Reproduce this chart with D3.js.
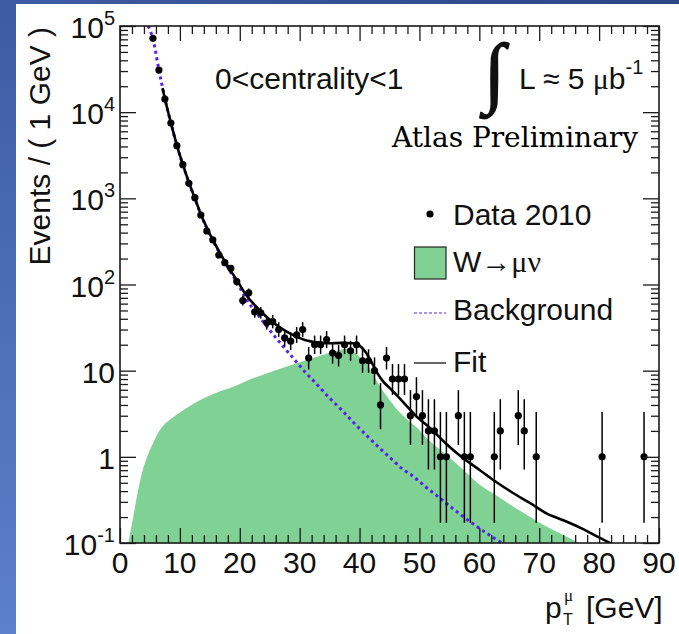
<!DOCTYPE html>
<html>
<head>
<meta charset="utf-8">
<script src="https://cdn.jsdelivr.net/npm/d3@7"></script>
<style>
  html, body { margin: 0; padding: 0; background: #fff; }
  svg { display: block; }
</style>
</head>
<body>
<svg id="chart" width="679" height="634"></svg>
<script>
// Muon pT spectrum in Pb+Pb, 0<centrality<1, with W->mu nu signal and background fit

// Data 2010: bin centres (GeV) and event counts per 1 GeV
const binCenters = [5.5, 6.5, 7.5, 8.5, 9.5, 10.5, 11.5, 12.5, 13.5, 14.5,
  15.5, 16.5, 17.5, 18.5, 19.5, 20.5, 21.5, 22.5, 23.5, 24.5,
  25.5, 26.5, 27.5, 28.5, 29.5, 30.5, 31.5, 32.5, 33.5, 34.5,
  35.5, 36.5, 37.5, 38.5, 39.5, 40.5, 41.5, 42.5, 43.5, 44.5,
  45.5, 46.5, 47.5, 48.5, 49.5, 50.5, 51.5, 52.5, 53.5, 54.5,
  56.5, 57.5, 58.5, 62.5, 63.5, 66.5, 67.5, 69.5, 80.5, 87.5];
const counts = [72000, 30800, 14200, 7480, 4080, 2460, 1494, 1018, 641, 418,
  329, 220, 179, 154, 108, 65, 80, 48, 47, 36,
  37, 30, 24, 22, 26, 30, 14, 20, 20, 23,
  16, 15, 20, 17, 20, 13, 13, 10, 4, 14,
  8, 8, 8, 3, 5, 3, 2, 2, 1, 1,
  3, 1, 1, 1, 2, 3, 2, 1, 1, 1];

// Background component (GeV, events)
const bgPt = [4.7, 5.5, 6.5, 7.5, 8.5, 9.5, 10.5, 11.5, 12.5, 13.5, 14.5, 15.5,
  16.5, 17.5, 18.5, 19.5, 21, 23, 25, 27, 29, 31, 33, 35, 37, 39, 41, 43, 45,
  47, 49, 51, 53, 55, 57, 59, 61, 63, 65];
const bgVal = [100000, 70800, 30900, 14300, 7500, 4120, 2450, 1530, 1000, 650, 450, 325,
  240, 180, 138, 106, 69, 44.7, 29.5, 20, 13.8, 9.5, 6.8, 4.8, 3.5, 2.5, 1.82, 1.33, 0.99,
  0.74, 0.59, 0.45, 0.35, 0.27, 0.21, 0.166, 0.133, 0.108, 0.088];

// W -> mu nu component (GeV, events)
const sigPt = [1.4, 2.2, 3.0, 3.9, 4.7, 5.6, 6.3, 6.9, 7.6, 8.5, 9.5, 11, 13.4, 16, 18.9, 21.5,
  24.5, 27, 29.5, 32, 35.1, 36.7, 37.8, 39, 40, 41.2, 42.3, 43.4, 44.8, 46.2, 48,
  49.5, 51.5, 54.5, 57.5, 60.1, 63, 65.7, 68.5, 71.2, 73.5, 75.7, 78.5];
const sigVal = [0.1, 0.2, 0.4, 0.74, 1.07, 1.48, 1.86, 2.16, 2.45, 2.75, 3.09, 3.63, 4.57, 5.5, 6.5, 7.8,
  9.3, 10.7, 12.2, 13.8, 16.2, 17.4, 17.8, 16.6, 14.5, 12.0, 8.9, 6.6, 4.8, 3.6, 2.7,
  2.2, 1.58, 1.05, 0.69, 0.47, 0.35, 0.264, 0.2, 0.155, 0.129, 0.108, 0.087];

// Total fit (GeV, events)
const fitPt = [7.1, 7.5, 8.5, 9.5, 10.5, 11.5, 12.5, 13.5, 14.5, 15.5, 16.5, 17.5, 18.5,
  19.5, 21, 23, 25, 27, 29, 31, 33, 35, 37, 39, 40, 41, 42, 43, 44, 45, 46.2, 48,
  49.5, 52, 54.5, 57, 60.1, 63, 65.7, 68.5, 71.2, 74, 76.8, 79, 81.8, 83];
const fitVal = [19000, 14300, 7500, 4120, 2455, 1534, 1004, 655, 455, 330, 246, 186, 144,
  113, 76.5, 53, 39, 30.7, 25.7, 22.6, 21.3, 20.8, 21, 20.8, 19.5, 16.5, 12.6, 9.3, 7.4, 6.3, 5.2, 3.8,
  2.95, 2.09, 1.41, 1.0, 0.70, 0.50, 0.378, 0.29, 0.221, 0.184, 0.151, 0.126, 0.1, 0.09];

// Axis tick labels
const xTickLabels = ["0", "10", "20", "30", "40", "50", "60", "70", "80", "90"];
const yTickLabels = [["10", "-1"], ["1", ""], ["10", ""], ["10", "2"], ["10", "3"], ["10", "4"], ["10", "5"]];

const plot = { left: 120, right: 659, top: 26, bottom: 543 };
const x = d3.scaleLinear().domain([0, 90]).range([plot.left, plot.right]);
const y = d3.scaleLog().domain([0.1, 1e5]).range([plot.bottom, plot.top]);

const svg = d3.select("#chart");
const defs = svg.append("defs");

// slide backdrop
const gL = defs.append("linearGradient").attr("id", "gradLeft")
  .attr("x1", 0).attr("y1", 0).attr("x2", 0).attr("y2", 1);
gL.append("stop").attr("offset", 0).attr("stop-color", "#3d5ba3");
gL.append("stop").attr("offset", 1).attr("stop-color", "#5d80cc");
const gT = defs.append("linearGradient").attr("id", "gradTop")
  .attr("x1", 0).attr("y1", 0).attr("x2", 1).attr("y2", 0);
gT.append("stop").attr("offset", 0).attr("stop-color", "#3e5ca4");
gT.append("stop").attr("offset", 1).attr("stop-color", "#2b4686");

svg.append("rect").attr("width", 679).attr("height", 634).attr("fill", "#fff");
svg.append("rect").attr("x", 0).attr("y", 0).attr("width", 679).attr("height", 4).attr("fill", "url(#gradTop)");
svg.append("rect").attr("x", 0).attr("y", 0).attr("width", 16).attr("height", 634).attr("fill", "url(#gradLeft)");

defs.append("clipPath").attr("id", "plotClip").append("rect")
  .attr("x", plot.left).attr("y", plot.top)
  .attr("width", plot.right - plot.left).attr("height", plot.bottom - plot.top);

const gPlot = svg.append("g").attr("clip-path", "url(#plotClip)");

// W signal, filled
const sigData = sigPt.map((p, i) => [p, sigVal[i]]);
gPlot.append("path")
  .datum(sigData)
  .attr("fill", "#80d294")
  .attr("d", d3.area().x(d => x(d[0])).y0(plot.bottom).y1(d => y(d[1])).curve(d3.curveMonotoneX));

// axes: inward ticks on all four sides
const xMajor = d3.range(0, 91, 10);
const xMinor = d3.range(0, 91, 2).filter(v => v % 10 !== 0);
const yMajor = [0.1, 1, 10, 100, 1e3, 1e4, 1e5];
const yMinor = [];
for (let e = -1; e <= 4; e++) for (let k = 2; k <= 9; k++) yMinor.push(k * Math.pow(10, e));

function axisGroup(axis, tx, ty) {
  const g = svg.append("g").attr("transform", `translate(${tx},${ty})`).call(axis);
  g.select(".domain").remove();
  g.selectAll("line").attr("stroke", "#1a1a1a").attr("stroke-width", 1.3);
  g.selectAll("text").remove();
  return g;
}
axisGroup(d3.axisBottom(x).tickValues(xMajor).tickSize(-15).tickSizeOuter(0), 0, plot.bottom);
axisGroup(d3.axisBottom(x).tickValues(xMinor).tickSize(-8).tickSizeOuter(0), 0, plot.bottom);
axisGroup(d3.axisTop(x).tickValues(xMajor).tickSize(-15).tickSizeOuter(0), 0, plot.top);
axisGroup(d3.axisTop(x).tickValues(xMinor).tickSize(-8).tickSizeOuter(0), 0, plot.top);
axisGroup(d3.axisLeft(y).tickValues(yMajor).tickSize(-16).tickSizeOuter(0), plot.left, 0);
axisGroup(d3.axisLeft(y).tickValues(yMinor).tickSize(-8).tickSizeOuter(0), plot.left, 0);
axisGroup(d3.axisRight(y).tickValues(yMajor).tickSize(-16).tickSizeOuter(0), plot.right, 0);
axisGroup(d3.axisRight(y).tickValues(yMinor).tickSize(-8).tickSizeOuter(0), plot.right, 0);

svg.append("rect")
  .attr("x", plot.left).attr("y", plot.top)
  .attr("width", plot.right - plot.left).attr("height", plot.bottom - plot.top)
  .attr("fill", "none").attr("stroke", "#1a1a1a").attr("stroke-width", 1.6);

// background component, dotted
const bgData = bgPt.map((p, i) => [p, bgVal[i]]);
gPlot.append("path")
  .datum(bgData)
  .attr("fill", "none")
  .attr("stroke", "#5522ee")
  .attr("stroke-width", 3)
  .attr("stroke-dasharray", "3,3.5")
  .attr("d", d3.line().x(d => x(d[0])).y(d => y(d[1])).curve(d3.curveMonotoneX));

// total fit
const fitData = fitPt.map((p, i) => [p, fitVal[i]]);
gPlot.append("path")
  .datum(fitData)
  .attr("fill", "none")
  .attr("stroke", "#000")
  .attr("stroke-width", 2.6)
  .attr("d", d3.line().x(d => x(d[0])).y(d => y(d[1])).curve(d3.curveMonotoneX));

// data with Poisson (Gehrels) error bars and bin-width horizontal bars
const poissonLow = n => n * Math.pow(1 - 1 / (9 * n) - 1 / (3 * Math.sqrt(n)), 3);
const poissonHigh = n => n + Math.sqrt(n + 0.75) + 1;
const pts = binCenters.map((p, i) => ({ p, n: counts[i] }));
const gData = gPlot.append("g");
gData.selectAll("line.ev").data(pts).join("line")
  .attr("class", "ev")
  .attr("x1", d => x(d.p)).attr("x2", d => x(d.p))
  .attr("y1", d => y(poissonLow(d.n))).attr("y2", d => y(poissonHigh(d.n)))
  .attr("stroke", "#000").attr("stroke-width", 1.5);
gData.selectAll("line.eh").data(pts).join("line")
  .attr("class", "eh")
  .attr("x1", d => x(d.p - 0.5)).attr("x2", d => x(d.p + 0.5))
  .attr("y1", d => y(d.n)).attr("y2", d => y(d.n))
  .attr("stroke", "#000").attr("stroke-width", 1.5);
gData.selectAll("circle").data(pts).join("circle")
  .attr("cx", d => x(d.p)).attr("cy", d => y(d.n)).attr("r", 3.6).attr("fill", "#000");

// tick labels
const sans = "'Liberation Sans', Arial, Helvetica, sans-serif";
const serif = "'Liberation Serif', 'Times New Roman', serif";

svg.append("g").selectAll("text").data(xMajor).join("text")
  .attr("x", d => x(d)).attr("y", plot.bottom + 30)
  .attr("text-anchor", "middle")
  .attr("font-family", sans).attr("font-size", 30).attr("fill", "#111")
  .text((d, i) => xTickLabels[i]);

const yLab = svg.append("g").selectAll("text").data(yMajor).join("text")
  .attr("x", 115).attr("y", d => y(d) + 12)
  .attr("text-anchor", "end")
  .attr("font-family", sans).attr("font-size", 30).attr("fill", "#111");
yLab.each(function (d, i) {
  const t = d3.select(this);
  const [base, sup] = yTickLabels[i];
  t.append("tspan").text(base);
  if (sup) t.append("tspan").attr("font-size", 20).attr("dy", -13).text(sup);
});

// axis titles
svg.append("text")
  .attr("transform", "translate(50,27) rotate(-90)")
  .attr("text-anchor", "end")
  .attr("font-family", sans).attr("font-size", 30).attr("fill", "#111")
  .text("Events / ( 1 GeV )");

svg.append("text").attr("x", 545).attr("y", 618)
  .attr("font-family", sans).attr("font-size", 30).attr("fill", "#111").text("p");
svg.append("text").attr("x", 564).attr("y", 601)
  .attr("font-family", serif).attr("font-size", 17).attr("fill", "#111").text("μ");
svg.append("text").attr("x", 563).attr("y", 625)
  .attr("font-family", sans).attr("font-size", 16).attr("fill", "#111").text("T");
svg.append("text").attr("x", 586).attr("y", 618)
  .attr("font-family", sans).attr("font-size", 30).attr("fill", "#111").text("[GeV]");

// annotations
svg.append("text").attr("x", 215).attr("y", 89)
  .attr("font-family", sans).attr("font-size", 30).attr("fill", "#111")
  .text("0<centrality<1");

svg.append("text").attr("x", 484).attr("y", 98)
  .attr("font-family", serif).attr("font-size", 78).attr("fill", "#111")
  .attr("stroke", "#111").attr("stroke-width", 1.3).text("∫");
const lum = svg.append("text").attr("x", 519).attr("y", 89)
  .attr("font-family", sans).attr("font-size", 30).attr("fill", "#111");
lum.append("tspan").text("L ≈ 5 ");
lum.append("tspan").attr("font-family", serif).text("μ");
lum.append("tspan").text("b");
lum.append("tspan").attr("font-size", 20).attr("dy", -15).text("-1");

svg.append("text").attr("x", 392).attr("y", 147)
  .attr("font-family", "'DejaVu Serif', serif").attr("font-size", 28).attr("fill", "#000")
  .text("Atlas Preliminary");

// legend
const lg = svg.append("g");
lg.append("circle").attr("cx", 430).attr("cy", 214).attr("r", 3.6).attr("fill", "#000");
lg.append("text").attr("x", 453).attr("y", 225)
  .attr("font-family", sans).attr("font-size", 30).attr("fill", "#111").text("Data 2010");

lg.append("rect").attr("x", 414.5).attr("y", 247).attr("width", 31.5).attr("height", 32)
  .attr("fill", "#80d294").attr("stroke", "#222").attr("stroke-width", 1.2);
const wt = lg.append("text").attr("x", 453).attr("y", 272)
  .attr("font-family", sans).attr("font-size", 30).attr("fill", "#111");
wt.append("tspan").text("W");
wt.append("tspan").attr("font-family", serif).text("→μν");

lg.append("line").attr("x1", 414).attr("x2", 446).attr("y1", 313).attr("y2", 313)
  .attr("stroke", "#5522ee").attr("stroke-width", 1.2).attr("stroke-dasharray", "3,2");
lg.append("text").attr("x", 453).attr("y", 320)
  .attr("font-family", sans).attr("font-size", 30).attr("fill", "#111").text("Background");

lg.append("line").attr("x1", 414).attr("x2", 446).attr("y1", 363).attr("y2", 363)
  .attr("stroke", "#000").attr("stroke-width", 1.2);
lg.append("text").attr("x", 453).attr("y", 372)
  .attr("font-family", sans).attr("font-size", 30).attr("fill", "#111").text("Fit");
</script>
</body>
</html>
